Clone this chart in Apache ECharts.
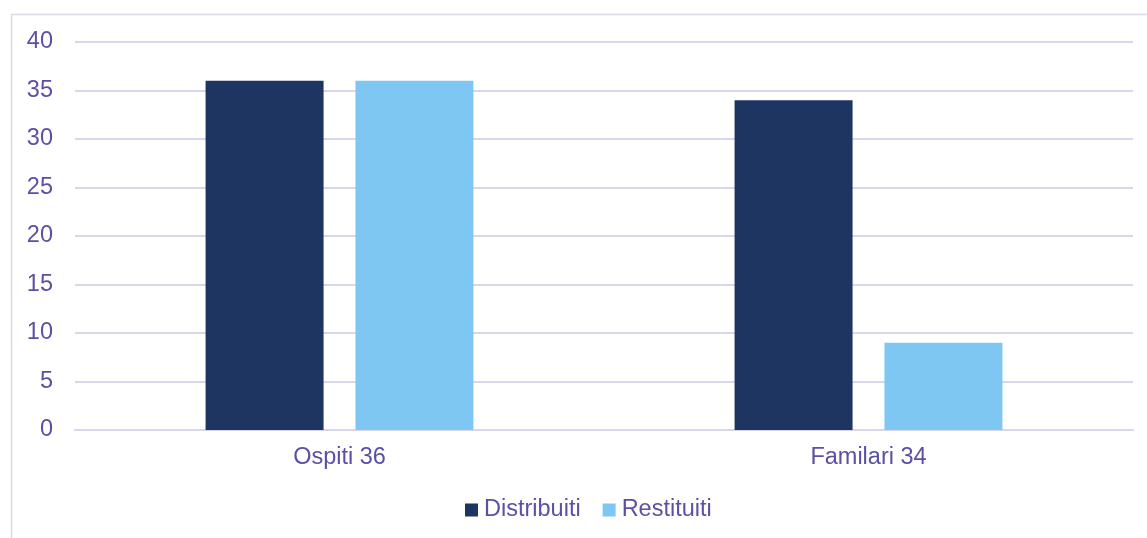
<!DOCTYPE html>
<html><head><meta charset="utf-8">
<script src="https://cdn.jsdelivr.net/npm/echarts@6/dist/echarts.min.js"></script>
<style>html,body{margin:0;padding:0;background:#fff}#c{width:1147px;height:538px}</style>
</head><body><div id="c"></div>
<script>
const categories = ["Ospiti 36", "Familari 34"];
const distribuiti = [36, 34];
const restituiti = [36, 9];
const seriesNames = ["Distribuiti", "Restituiti"];

const txt = '#5b50a3';
const chart = echarts.init(document.getElementById('c'));
chart.setOption({
  animation: false,
  textStyle: { fontFamily: 'Liberation Sans, Arial, sans-serif' },
  graphic: [{
    type: 'rect', left: 9, top: 12, shape: { width: 1160, height: 540 },
    style: { fill: 'none', stroke: '#dcd8ec', lineWidth: 1.5 }, silent: true, z: -1
  }],
  legend: {
    top: 498, left: 465, padding: 0, itemWidth: 13, itemHeight: 13, itemGap: 22,
    icon: 'rect', textStyle: { color: txt, fontSize: 23.5, padding: [0, 0, 0, 1] },
    data: seriesNames
  },
  grid: { left: 75, right: 14, top: 42, bottom: 108, containLabel: false },
  xAxis: {
    type: 'category', data: categories,
    axisLine: { lineStyle: { color: '#d9d5ea', width: 2 } },
    axisTick: { show: false },
    axisLabel: { color: txt, fontSize: 23.5, margin: 16 }
  },
  yAxis: {
    type: 'value', min: 0, max: 40, interval: 5,
    axisLine: { show: false }, axisTick: { show: false },
    splitLine: { lineStyle: { color: '#d9d5ea', width: 2 } },
    axisLabel: { color: txt, fontSize: 23.5, margin: 22, align: 'right' }
  },
  series: [
    { name: seriesNames[0], type: 'bar', data: distribuiti, barWidth: 118, barGap: '27%', itemStyle: { color: '#1e3561' } },
    { name: seriesNames[1], type: 'bar', data: restituiti, barWidth: 118, barGap: '27%', itemStyle: { color: '#7fc7f3' } }
  ]
});
</script></body></html>
